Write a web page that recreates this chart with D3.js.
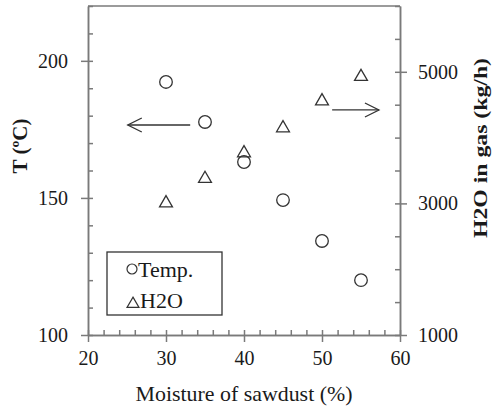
<!DOCTYPE html>
<html>
<head>
<meta charset="utf-8">
<script src="https://cdn.jsdelivr.net/npm/d3@7"></script>
<style>
  body { margin: 0; background: #fff; }
  text { font-family: "Liberation Serif", "Times New Roman", serif; fill: #1a1a1a; }
  .axis path, .axis line { stroke: #7a7a7a; stroke-width: 1.5; }
</style>
</head>
<body>
<div id="chart"></div>
<script>
// data
var moisture = [30, 35, 40, 45, 50, 55];
var tempC = [192.3, 177.7, 163.1, 149.2, 134.3, 120.0];
var h2oGas = [3020, 3390, 3780, 4160, 4570, 4940];

// tick labels
var xTicks = [20, 30, 40, 50, 60];
var yTicks = [100, 150, 200];
var y2Ticks = [1000, 3000, 5000];

// arrows: [x start, x end, value on its axis]
var leftArrow = [33.1, 25.1, 176.6];
var rightArrow = [51.3, 57.3, 4420];

// sets the canvas
var width = 493, height = 407;
var plot = {left: 88, right: 400, top: 6, bottom: 335};

var svg = d3.select("#chart").append("svg")
    .attr("width", width)
    .attr("height", height);

// scales
var xScale = d3.scaleLinear().domain([20, 60]).range([plot.left, plot.right]);
var yScale = d3.scaleLinear().domain([100, 220]).range([plot.bottom, plot.top]);
var y2Scale = d3.scaleLinear().domain([1000, 6000]).range([plot.bottom, plot.top]);

// minor ticks (inside)
svg.append("g")
    .attr("class", "axis")
    .attr("transform", "translate(0," + plot.bottom + ")")
    .call(d3.axisTop(xScale).tickValues(d3.range(20, 61, 2)).tickSize(5).tickSizeOuter(0).tickFormat(""));

svg.append("g")
    .attr("class", "axis")
    .attr("transform", "translate(" + plot.left + ",0)")
    .call(d3.axisRight(yScale).tickValues(d3.range(100, 221, 10)).tickSize(5).tickSizeOuter(0).tickFormat(""));

svg.append("g")
    .attr("class", "axis")
    .attr("transform", "translate(" + plot.right + ",0)")
    .call(d3.axisLeft(y2Scale).tickValues(d3.range(1000, 6001, 500)).tickSize(5).tickSizeOuter(0).tickFormat(""));

// major ticks with labels (outside)
svg.append("g")
    .attr("class", "axis")
    .attr("transform", "translate(0," + plot.bottom + ")")
    .call(d3.axisBottom(xScale).tickValues(xTicks).tickSize(7).tickSizeOuter(0).tickPadding(9));

svg.append("g")
    .attr("class", "axis")
    .attr("transform", "translate(" + plot.left + ",0)")
    .call(d3.axisLeft(yScale).tickValues(yTicks).tickSize(7).tickSizeOuter(0).tickPadding(13));

svg.append("g")
    .attr("class", "axis")
    .attr("transform", "translate(" + plot.right + ",0)")
    .call(d3.axisRight(y2Scale).tickValues(y2Ticks).tickSize(7).tickSizeOuter(0).tickPadding(11)
        .tickFormat(d3.format("d")));

svg.selectAll(".axis text")
    .style("font-family", "Liberation Serif, serif")
    .style("font-size", "20px")
    .attr("fill", "#1a1a1a");

// top border
svg.append("line")
    .attr("x1", plot.left).attr("x2", plot.right)
    .attr("y1", plot.top).attr("y2", plot.top)
    .attr("stroke", "#7a7a7a")
    .attr("stroke-width", 1.5);

// temperature circles
svg.selectAll("circle.temp")
    .data(moisture)
    .enter()
    .append("circle")
    .attr("class", "temp")
    .attr("cx", function(d) { return xScale(d); })
    .attr("cy", function(d, i) { return yScale(tempC[i]); })
    .attr("r", 6.3)
    .attr("fill", "none")
    .attr("stroke", "#333")
    .attr("stroke-width", 1.3);

// h2o triangles
var tri = d3.symbol().type(d3.symbolTriangle).size(72);
svg.selectAll("path.h2o")
    .data(moisture)
    .enter()
    .append("path")
    .attr("class", "h2o")
    .attr("d", tri)
    .attr("transform", function(d, i) {
        return "translate(" + xScale(d) + "," + (y2Scale(h2oGas[i]) + 1) + ")";
    })
    .attr("fill", "none")
    .attr("stroke", "#333")
    .attr("stroke-width", 1.3);

// arrows
function drawArrow(x1, x2, y) {
    var dir = x2 < x1 ? 1 : -1;
    svg.append("line")
        .attr("x1", x1).attr("x2", x2)
        .attr("y1", y).attr("y2", y)
        .attr("stroke", "#333").attr("stroke-width", 1.3);
    svg.append("path")
        .attr("d", "M" + (x2 + dir * 14) + "," + (y - 7) + "L" + x2 + "," + y + "L" + (x2 + dir * 14) + "," + (y + 7))
        .attr("fill", "none")
        .attr("stroke", "#333").attr("stroke-width", 1.3);
}
drawArrow(xScale(leftArrow[0]), xScale(leftArrow[1]), yScale(leftArrow[2]));
drawArrow(xScale(rightArrow[0]), xScale(rightArrow[1]), y2Scale(rightArrow[2]));

// legend
var legend = svg.append("g");
legend.append("rect")
    .attr("x", 107).attr("y", 252)
    .attr("width", 115).attr("height", 63)
    .attr("fill", "#fff")
    .attr("stroke", "#333")
    .attr("stroke-width", 1.3);
legend.append("circle")
    .attr("cx", 132).attr("cy", 269).attr("r", 5)
    .attr("fill", "none").attr("stroke", "#333").attr("stroke-width", 1.2);
legend.append("text")
    .attr("x", 138).attr("y", 277)
    .style("font-size", "22px")
    .text("Temp.");
legend.append("path")
    .attr("d", d3.symbol().type(d3.symbolTriangle).size(62))
    .attr("transform", "translate(133,304)")
    .attr("fill", "none").attr("stroke", "#333").attr("stroke-width", 1.2);
legend.append("text")
    .attr("x", 140).attr("y", 308)
    .style("font-size", "22px")
    .text("H2O");

// axis titles
svg.append("text")
    .attr("x", (plot.left + plot.right) / 2)
    .attr("y", 401)
    .attr("text-anchor", "middle")
    .style("font-size", "21px")
    .attr("textLength", 217)
    .attr("lengthAdjust", "spacingAndGlyphs")
    .text("Moisture of sawdust (%)");

svg.append("text")
    .attr("transform", "translate(27,146) rotate(-90)")
    .attr("text-anchor", "middle")
    .style("font-size", "21px")
    .style("font-weight", "bold")
    .text("T (ºC)");

svg.append("text")
    .attr("transform", "translate(487,148) rotate(-90)")
    .attr("text-anchor", "middle")
    .style("font-size", "19px")
    .style("font-weight", "bold")
    .attr("textLength", 180)
    .attr("lengthAdjust", "spacingAndGlyphs")
    .text("H2O in gas (kg/h)");
</script>
</body>
</html>
